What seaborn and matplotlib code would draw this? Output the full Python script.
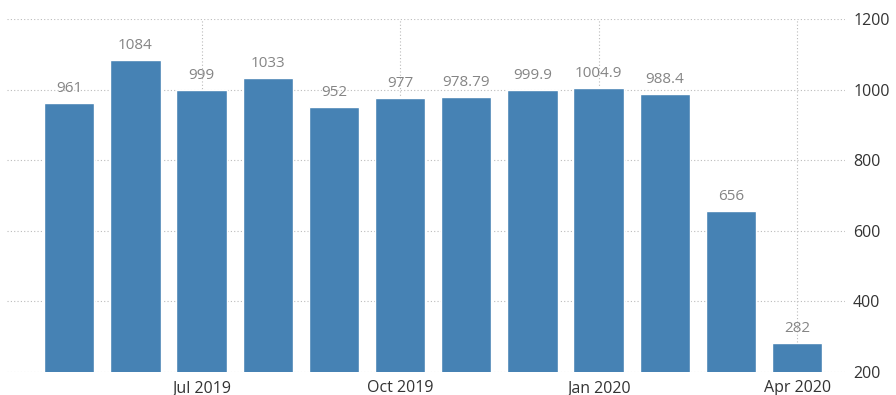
import matplotlib
matplotlib.use("Agg")
import matplotlib.pyplot as plt
import seaborn as sns
import pandas as pd

months = ["May 2019", "Jun 2019", "Jul 2019", "Aug 2019", "Sep 2019", "Oct 2019",
          "Nov 2019", "Dec 2019", "Jan 2020", "Feb 2020", "Mar 2020", "Apr 2020"]
values = [961, 1084, 999, 1033, 952, 977, 978.79, 999.9, 1004.9, 988.4, 656, 282]
value_labels = ["961", "1084", "999", "1033", "952", "977", "978.79", "999.9",
                "1004.9", "988.4", "656", "282"]
tick_months = ["Jul 2019", "Oct 2019", "Jan 2020", "Apr 2020"]
y_ticks = [200, 400, 600, 800, 1000, 1200]

sns.set_style("white")
plt.rcParams['font.family'] = ['Open Sans', 'DejaVu Sans']

df = pd.DataFrame({"month": months, "value": values})

fig = plt.figure(figsize=(8.96, 3.95), dpi=100)
ax = fig.add_axes([0.0078, 0.058, 0.935, 0.894])

sns.barplot(data=df, x="month", y="value", color="#4682B4", saturation=1,
            width=0.76, ax=ax, zorder=3)

ax.set_ylim(200, 1200)
ax.set_xlim(-0.94, 11.72)

ax.yaxis.tick_right()
ax.set_yticks(y_ticks)
ax.set_yticklabels([str(t) for t in y_ticks], fontsize=11.5, color="#333333")

tick_pos = [months.index(m) for m in tick_months]
ax.set_xticks(tick_pos)
ax.set_xticklabels(tick_months, fontsize=11.5, color="#333333")
ax.tick_params(axis="x", length=4, color="#cccccc", pad=2)
ax.tick_params(axis="y", length=0, pad=6)

ax.set_xlabel("")
ax.set_ylabel("")

for s in ax.spines.values():
    s.set_visible(False)

ax.grid(True, axis="both", linestyle=(0, (1, 2)), color="#bbbbbb", linewidth=0.8, zorder=0)
ax.set_axisbelow(True)

for i, (v, lab) in enumerate(zip(values, value_labels)):
    ax.annotate(lab, (i, v), xytext=(0, 5), textcoords="offset points",
                ha="center", va="bottom", fontsize=11, color="#858585")

fig.savefig("out.png", dpi=100)
